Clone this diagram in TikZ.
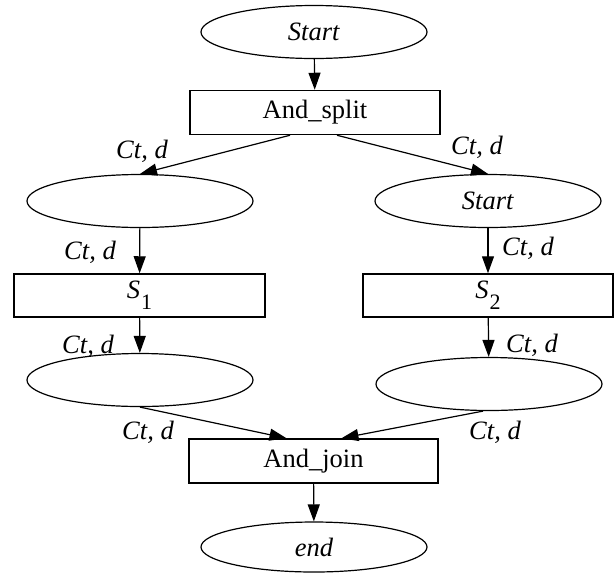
\documentclass[tikz,border=0pt]{standalone}
\usepackage{fontspec}
\setmainfont{Liberation Serif}
\usetikzlibrary{shapes.geometric,arrows.meta}
\begin{document}
\begin{tikzpicture}[x=1pt,y=-1pt,
  every node/.style={font=\fontsize{26.5}{31}\selectfont},
  state/.style={draw, ellipse, line width=1.2pt, minimum width=226pt, minimum height=53pt, inner sep=0pt},
  task/.style={draw, rectangle, line width=1.5pt, minimum width=250pt, minimum height=44pt, inner sep=0pt},
  flow/.style={line width=1.2pt, -{Triangle[length=17pt,width=12pt]}},
  lab/.style={inner sep=0pt, font=\fontsize{26.5}{31}\selectfont\itshape}]
\useasboundingbox (0,0) rectangle (615,574);

% states and tasks
\node[state] (start) at (314,32) {\textit{Start}};
\node[task] (split) at (315,112.5) {And\_split};
\node[state] (l1) at (140,201) {};
\node[state] (r1) at (488,201) {\textit{Start}};
\node[task, minimum width=251pt, minimum height=43pt] (s1) at (139.5,295.5) {\textit{S}\kern1pt\raisebox{-0.4em}{\fontsize{22}{24}\selectfont 1}};
\node[task, minimum height=43pt] (s2) at (488,295.5) {\textit{S}\kern1pt\raisebox{-0.4em}{\fontsize{22}{24}\selectfont 2}};
\node[state] (l2) at (140,380) {};
\node[state] (r2) at (489,384) {};
\node[task, minimum width=249pt] (join) at (313.5,461) {And\_join};
\node[state, minimum height=50pt] (end) at (314,547) {\textit{end}};

% connectors
\draw[flow] (start) -- (split);
\draw[flow] ([xshift=-25pt]split.south) -- (l1.north);
\draw[flow] ([xshift=22pt]split.south) -- (r1.north);
\draw[flow] (l1) -- (s1);
\draw[flow] (r1) -- (s2);
\draw[flow] (s1) -- (l2);
\draw[flow] (s2) -- (r2);
\draw[flow] (l2.south) -- ([xshift=-27pt]join.north);
\draw[flow] ([xshift=-6pt]r2.south) -- ([xshift=28pt]join.north);
\draw[flow] (join) -- (end);

% arc labels
\node[lab] (t1) at (142,151) {Ct, d};
\node[lab] (t2) at (477,147) {Ct, d};
\node[lab] (t3) at (90,252) {Ct, d};
\node[lab] (t4) at (528,248) {Ct, d};
\node[lab] (t5) at (88,346) {Ct, d};
\node[lab] (t6) at (532,345) {Ct, d};
\node[lab] (t7) at (148,432) {Ct, d};
\node[lab] (t8) at (495,432) {Ct, d};
\end{tikzpicture}
\end{document}
